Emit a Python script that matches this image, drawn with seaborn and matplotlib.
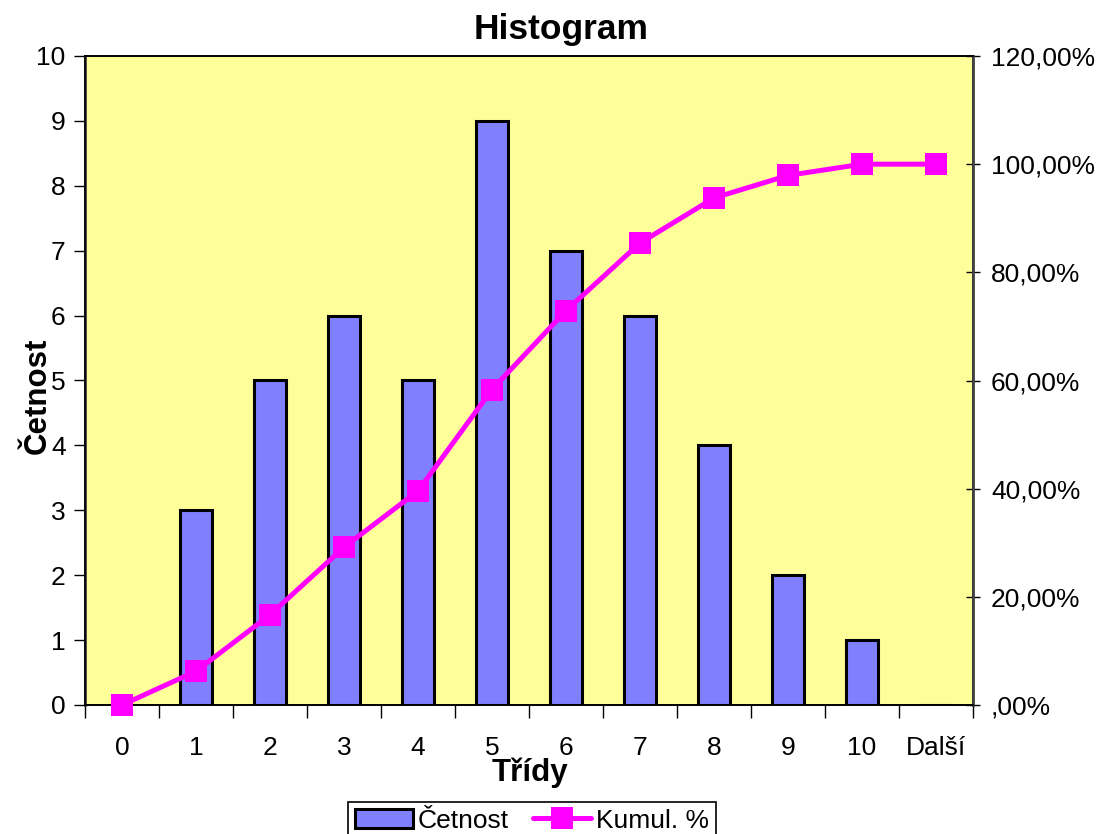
import numpy as np
import pandas as pd
import matplotlib
matplotlib.use("Agg")
import matplotlib.pyplot as plt
import seaborn as sns
from matplotlib.ticker import FuncFormatter, FixedLocator

# data
tridy = ["0", "1", "2", "3", "4", "5", "6", "7", "8", "9", "10", "Další"]
cetnost = [0, 3, 5, 6, 5, 9, 7, 6, 4, 2, 1, 0]
kumul = [0.0, 0.0625, 0.1667, 0.2917, 0.3958, 0.5833, 0.7292, 0.8542, 0.9375, 0.9792, 1.0, 1.0]

sns.set_style("white")
plt.rcParams["font.family"] = ["Liberation Sans", "DejaVu Sans"]
plt.rcParams["text.color"] = "black"
plt.rcParams["xtick.color"] = "black"
plt.rcParams["ytick.color"] = "black"

pos = np.arange(len(tridy))
df = pd.DataFrame({"pos": pos, "cetnost": cetnost, "kumul": kumul})

fig = plt.figure(figsize=(11.02, 8.34), dpi=100)
ax = fig.add_axes([85 / 1102, 1 - 705 / 834, 888 / 1102, 649 / 834])
ax.set_facecolor("#FFFF99")

sns.barplot(data=df, x="pos", y="cetnost", native_scale=True, width=0.42,
            color="#8080FF", edgecolor="black", linewidth=2.2, saturation=1,
            ax=ax, label="Četnost")

ax2 = ax.twinx()
sns.lineplot(data=df, x="pos", y="kumul", color="#FF00FF", linewidth=3.6,
             marker="s", markersize=16, markeredgewidth=0, ax=ax2,
             label="Kumul. %", clip_on=False, zorder=5)

ax.set_xlim(-0.5, len(tridy) - 0.5)
ax.set_ylim(0, 10)
ax.set_yticks(range(0, 11))
ax2.set_ylim(0, 1.2)
ax2.set_yticks(np.arange(0, 1.21, 0.2))
ax2.yaxis.set_major_formatter(FuncFormatter(
    lambda v, p: ",00%" if abs(v) < 1e-9 else f"{v * 100:.2f}%".replace(".", ",")))

ax.set_xticks(pos)
ax.set_xticklabels(tridy)
ax.xaxis.set_minor_locator(FixedLocator(np.arange(-0.5, len(tridy), 1)))
ax.tick_params(axis="x", which="major", length=0, labelsize=19, pad=22)
ax.tick_params(axis="x", which="minor", length=9, width=1, direction="out", bottom=True)
ax.tick_params(axis="y", labelsize=19, length=8, width=1, direction="out", left=True, pad=6)
ax2.tick_params(axis="y", labelsize=19, length=10, width=1, direction="inout", right=True, pad=8)
ax.set_xlabel("")
ax.set_ylabel("")
ax2.set_ylabel("")
ax2.set_xlabel("")

for a in (ax, ax2):
    for s in a.spines.values():
        s.set_color("black")
        s.set_linewidth(1.2)
ax.spines["left"].set_color("#404040")
ax2.spines["right"].set_color("#404040")
ax2.spines["right"].set_linewidth(2)
ax.spines["left"].set_linewidth(2)

fig.text(561 / 1102, 1 - 30 / 834, "Histogram", ha="center", va="center",
         fontsize=25.5, fontweight="bold")
fig.text(530 / 1102, 1 - 773 / 834, "Třídy", ha="center", va="center",
         fontsize=22.5, fontweight="bold")
fig.text(38 / 1102, 1 - 396 / 834, "Četnost", ha="center", va="center",
         fontsize=22.5, fontweight="bold", rotation=90)

h1, l1 = ax.get_legend_handles_labels()
h2, l2 = ax2.get_legend_handles_labels()
if ax.get_legend():
    ax.get_legend().remove()
if ax2.get_legend():
    ax2.get_legend().remove()
leg = fig.legend(h1 + h2, l1 + l2, loc="lower center", ncol=2,
                 bbox_to_anchor=(532 / 1102, -0.022), fontsize=19, frameon=True,
                 fancybox=False, edgecolor="black", framealpha=1,
                 handlelength=2.2, handletextpad=0.2, columnspacing=0.9,
                 borderpad=0.25)
leg.get_frame().set_linewidth(1.2)

fig.savefig("out.png", dpi=100)
